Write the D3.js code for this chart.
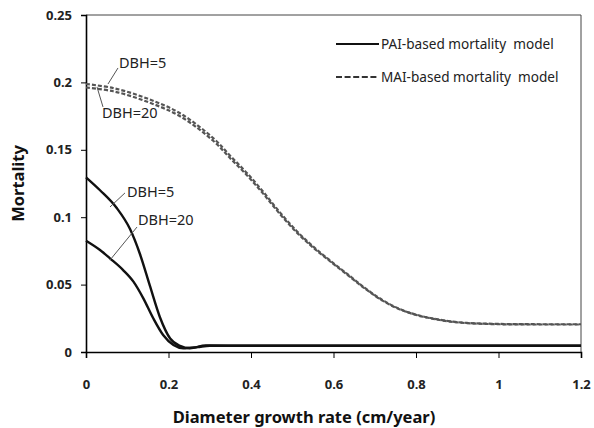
<!DOCTYPE html>
<html><head><meta charset="utf-8">
<script src="https://cdn.jsdelivr.net/npm/d3@7"></script>
<style>body{margin:0;background:#fff}svg{display:block}</style>
</head><body><svg id="c" width="594" height="428"></svg>
<script>
const xTicks = [0, 0.2, 0.4, 0.6, 0.8, 1, 1.2];
const xTickLabels = ["0", "0.2", "0.4", "0.6", "0.8", "1", "1.2"];
const yTicks = [0, 0.05, 0.1, 0.15, 0.2, 0.25];
const yTickLabels = ["0", "0.05", "0.1", "0.15", "0.2", "0.25"];

const paiDbh5X = [0, 0.034, 0.074, 0.107, 0.131, 0.155, 0.179, 0.204, 0.228, 0.252, 0.29, 0.4, 0.6, 0.8, 1.0, 1.2];
const paiDbh5Y = [0.1296, 0.120, 0.107, 0.091, 0.0725, 0.0490, 0.026, 0.010, 0.0045, 0.0028, 0.0048, 0.0046, 0.0046, 0.0046, 0.0046, 0.0046];
const paiDbh20X = [0, 0.034, 0.058, 0.090, 0.115, 0.139, 0.163, 0.187, 0.212, 0.236, 0.27, 0.3, 0.4, 0.6, 0.8, 1.0, 1.2];
const paiDbh20Y = [0.0826, 0.0757, 0.0695, 0.0608, 0.0522, 0.0398, 0.025, 0.0126, 0.0052, 0.0028, 0.0036, 0.0046, 0.0046, 0.0046, 0.0046, 0.0046, 0.0046];

const maiX = [0, 0.066, 0.147, 0.228, 0.309, 0.35, 0.39, 0.43, 0.47, 0.51, 0.55, 0.59, 0.64, 0.68, 0.72, 0.761, 0.8, 0.842, 0.882, 0.923, 1.004, 1.1, 1.2];
const maiDbh5Y = [0.1988, 0.1958, 0.1882, 0.1771, 0.1585, 0.1454, 0.1328, 0.1187, 0.1036, 0.0900, 0.0784, 0.0683, 0.0563, 0.0466, 0.0383, 0.0318, 0.0277, 0.0248, 0.0228, 0.0216, 0.0208, 0.0206, 0.0206];
const maiDbh20Y = [0.1962, 0.1934, 0.1858, 0.1749, 0.1565, 0.1436, 0.1312, 0.1173, 0.1024, 0.0890, 0.0776, 0.0677, 0.0557, 0.0462, 0.0379, 0.0316, 0.0275, 0.0246, 0.0226, 0.0214, 0.0206, 0.0204, 0.0204];

const legendLabels = ["PAI-based mortality  model", "MAI-based mortality  model"];
const annotations = [
  {text: "DBH=5",  tx: 0.080, ty: 0.2144, x1: 0.0776, y1: 0.2107, x2: 0.0533, y2: 0.1988},
  {text: "DBH=20", tx: 0.0388, ty: 0.1773, x1: 0.0267, y1: 0.1966, x2: 0.0412, y2: 0.1818},
  {text: "DBH=5",  tx: 0.0994, ty: 0.1187, x1: 0.0945, y1: 0.1180, x2: 0.0582, y2: 0.1076},
  {text: "DBH=20", tx: 0.126, ty: 0.0979, x1: 0.1236, y1: 0.0927, x2: 0.0582, y2: 0.0682}
];

const W = 594, H = 428;
const m = {l: 86, r: 13, t: 15, b: 76};
const svg = d3.select("#c");
const font = "'Noto Sans', 'Open Sans', sans-serif";
const x = d3.scaleLinear().domain([0, 1.2]).range([m.l, W - m.r]);
const y = d3.scaleLinear().domain([0, 0.25]).range([H - m.b, m.t]);

// frame (top/right)
svg.append("path")
  .attr("d", `M${x(0)},${y(0.25)}H${x(1.2)}V${y(0)}`)
  .attr("fill", "none").attr("stroke", "#444").attr("stroke-width", 1);

// axes
const xAxis = d3.axisBottom(x).tickValues(xTicks).tickFormat((d, i) => xTickLabels[i]).tickSizeOuter(0).tickSize(6).tickPadding(22);
const gx = svg.append("g").attr("transform", `translate(0,${y(0)})`).call(xAxis);
const yAxis = d3.axisLeft(y).tickValues(yTicks).tickFormat((d, i) => yTickLabels[i]).tickSizeOuter(0).tickSize(5).tickPadding(9);
const gy = svg.append("g").attr("transform", `translate(${x(0)},0)`).call(yAxis);
[gx, gy].forEach(g => {
  g.select(".domain").attr("stroke", "#000").attr("stroke-width", 1.6);
  g.selectAll(".tick line").attr("stroke", "#000").attr("stroke-width", 1);
  g.selectAll(".tick text").attr("font-family", font).attr("font-size", 13)
    .attr("font-weight", "bold").attr("fill", "#222");
});

// lines
const mk = (xs, ys) => xs.map((v, i) => [v, ys[i]]);
const smooth = d3.line().x(d => x(d[0])).y(d => y(d[1])).curve(d3.curveCatmullRom.alpha(0.5));
const mono = d3.line().x(d => x(d[0])).y(d => y(d[1])).curve(d3.curveMonotoneX);
[maiDbh5Y, maiDbh20Y].forEach(ys => {
  svg.append("path").attr("d", smooth(mk(maiX, ys)))
    .attr("fill", "none").attr("stroke", "#555").attr("stroke-width", 2.2)
    .attr("stroke-dasharray", "4,2");
});
[[paiDbh5X, paiDbh5Y], [paiDbh20X, paiDbh20Y]].forEach(([xs, ys]) => {
  svg.append("path").attr("d", mono(mk(xs, ys)))
    .attr("fill", "none").attr("stroke", "#111").attr("stroke-width", 2.4);
});

// annotations
annotations.forEach(a => {
  svg.append("line")
    .attr("x1", x(a.x1)).attr("y1", y(a.y1))
    .attr("x2", x(a.x2)).attr("y2", y(a.y2))
    .attr("stroke", "#555").attr("stroke-width", 1);
  svg.append("text").text(a.text)
    .attr("x", x(a.tx)).attr("y", y(a.ty)).attr("dy", "0.36em")
    .attr("font-family", font).attr("font-size", 14.5).attr("fill", "#222");
});

// legend
const lx0 = 336, lx1 = 379;
legendLabels.forEach((lab, i) => {
  const ly = 44 + i * 33;
  svg.append("line").attr("x1", lx0).attr("x2", lx1).attr("y1", ly).attr("y2", ly)
    .attr("stroke", i === 0 ? "#111" : "#333").attr("stroke-width", i === 0 ? 2.2 : 1.8)
    .attr("stroke-dasharray", i === 0 ? null : "6,2.6");
  svg.append("text").text(lab).attr("x", lx1 + 2).attr("y", ly).attr("dy", "0.36em")
    .attr("xml:space", "preserve")
    .attr("font-family", font).attr("font-size", 13.6).attr("fill", "#222");
});

// axis titles
svg.append("text").text("Diameter growth rate (cm/year)")
  .attr("x", 304).attr("y", 423).attr("text-anchor", "middle")
  .attr("font-family", font).attr("font-size", 16.5).attr("font-weight", "bold").attr("fill", "#111");
svg.append("text").text("Mortality")
  .attr("transform", `translate(24,${(y(0) + y(0.25)) / 2}) rotate(-90)`)
  .attr("text-anchor", "middle")
  .attr("font-family", font).attr("font-size", 16.5).attr("font-weight", "bold").attr("fill", "#111");
</script></body></html>
